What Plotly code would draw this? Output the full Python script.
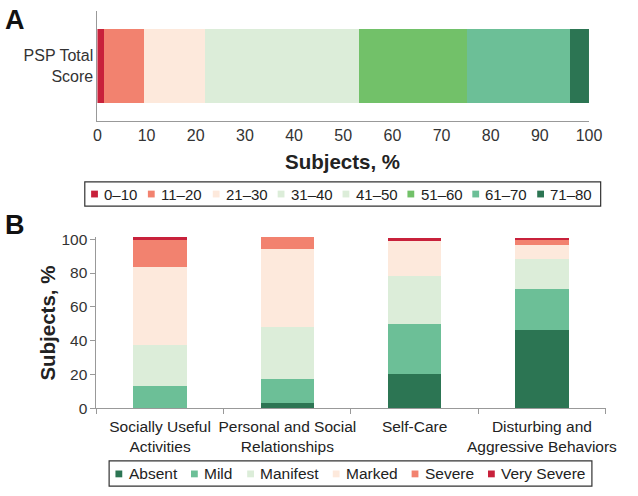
import plotly.graph_objects as go

# ---- Data ----
psp_bins = ["0–10", "11–20", "21–30", "31–40", "41–50", "51–60", "61–70", "71–80"]
psp_values = [1.4, 8.0, 12.5, 12.0, 19.3, 22.0, 20.9, 3.9]
psp_colors = ["#c8213b", "#f2826f", "#fde9dc", "#dcedd9", "#dcedd9", "#72c169", "#6cbf97", "#2c7553"]
psp_category = "PSP Total<br>Score"

domains = ["Socially Useful<br>Activities", "Personal and Social<br>Relationships",
           "Self-Care", "Disturbing and<br>Aggressive Behaviors"]
severity = ["Absent", "Mild", "Manifest", "Marked", "Severe", "Very Severe"]
absent = [0.0, 3.1, 20.3, 46.1]
mild = [13.4, 14.3, 29.8, 24.6]
manifest = [24.1, 30.4, 28.1, 17.4]
marked = [45.9, 46.5, 20.7, 8.5]
severe = [16.6, 6.8, 0.0, 2.8]
very_severe = [1.1, 0.0, 1.7, 1.2]
severity_values = [absent, mild, manifest, marked, severe, very_severe]
severity_colors = ["#2c7553", "#6cbf97", "#dcedd9", "#fde9dc", "#f2826f", "#c8213b"]

W, H = 638, 496
SANS = "Liberation Sans, Arial, sans-serif"
TXT = "#222"

# Arial / Liberation Sans advance widths (em) for legend layout
CW = {c: 0.556 for c in "0123456789–abdegnopqu"}
CW.update({" ": 0.278, "t": 0.278, "f": 0.278, "i": 0.222, "l": 0.222, "j": 0.222, "r": 0.333,
           "s": 0.5, "k": 0.5, "v": 0.5, "y": 0.5, "c": 0.5, "x": 0.5, "z": 0.5,
           "m": 0.833, "w": 0.722, "A": 0.667, "M": 0.833, "S": 0.667, "V": 0.667})


def text_w(s, size):
    return sum(CW.get(ch, 0.6) for ch in s) * size


def fy(px):
    return 1 - px / H


fig = go.Figure()

# Panel A bars
for name, v, c in zip(psp_bins, psp_values, psp_colors):
    fig.add_trace(go.Bar(x=[v], y=[psp_category], orientation="h", marker=dict(color=c, line=dict(width=0)),
                         width=0.67, showlegend=False, xaxis="x", yaxis="y", name=name))

# Panel B bars
for name, vals, c in zip(severity, severity_values, severity_colors):
    fig.add_trace(go.Bar(x=domains, y=vals, marker=dict(color=c, line=dict(width=0)), width=0.42,
                         showlegend=False, xaxis="x2", yaxis="y2", name=name))

shapes = []
annotations = []


def add_legend(names, colors, x_start, text_end, y_mid, y_top, y_bot, box_left, box_right, size, gap_sym):
    widths = [text_w(n, size) for n in names]
    free = text_end - x_start - sum(widths) - gap_sym * len(names)
    gap_next = free / (len(names) - 1)
    x = x_start
    for name, c, w in zip(names, colors, widths):
        shapes.append(dict(type="rect", xref="paper", yref="paper",
                           x0=(x - 3.5) / W, x1=(x + 3.5) / W, y0=fy(y_mid + 3.5), y1=fy(y_mid - 3.5),
                           fillcolor=c, line=dict(width=0)))
        tx = x + gap_sym
        annotations.append(dict(text=name, x=tx / W, y=fy(y_mid), xref="paper", yref="paper",
                                xanchor="left", yanchor="middle", showarrow=False, borderpad=0,
                                borderwidth=0, font=dict(family=SANS, size=size, color=TXT)))
        x = tx + w + gap_next
    shapes.append(dict(type="rect", xref="paper", yref="paper", x0=box_left / W, x1=box_right / W,
                       y0=fy(y_bot), y1=fy(y_top), line=dict(color="#333", width=1.2),
                       fillcolor="rgba(0,0,0,0)"))


add_legend(psp_bins, psp_colors, x_start=93, text_end=603, y_mid=193.5, y_top=181, y_bot=206,
           box_left=83, box_right=613, size=15, gap_sym=10)
add_legend(severity, severity_colors, x_start=118, text_end=596, y_mid=481.5, y_top=468, y_bot=494,
           box_left=108, box_right=604, size=15.5, gap_sym=10)

annotations += [
    dict(text="<b>A</b>", x=-1 / W, y=fy(-3), xref="paper", yref="paper", xanchor="left", yanchor="top",
         showarrow=False, font=dict(family=SANS, size=27, color="#111")),
    dict(text="<b>B</b>", x=-1 / W, y=fy(208), xref="paper", yref="paper", xanchor="left", yanchor="top",
         showarrow=False, font=dict(family=SANS, size=27, color="#111")),
    dict(text="<b>Subjects, %</b>", x=348 / W, y=fy(160), xref="paper", yref="paper",
         xanchor="center", yanchor="middle", showarrow=False,
         font=dict(family=SANS, size=20.5, color=TXT)),
    dict(text="<b>Subjects, %</b>", x=45 / W, y=fy(326), xref="paper", yref="paper",
         xanchor="center", yanchor="middle", showarrow=False, textangle=-90,
         font=dict(family=SANS, size=20.5, color=TXT)),
]

fig.update_layout(
    width=W, height=H, margin=dict(l=0, r=0, t=0, b=0),
    paper_bgcolor="white", plot_bgcolor="white",
    barmode="stack", showlegend=False,
    font=dict(family=SANS, color=TXT),
    xaxis=dict(domain=[96 / W, 601 / W], anchor="y", range=[0, 100], dtick=10, tick0=0,
               showline=True, linecolor="#999", linewidth=1, showgrid=False, zeroline=False,
               ticks="", tickfont=dict(family=SANS, size=16, color="#333")),
    yaxis=dict(domain=[fy(118), fy(5)], anchor="x", showline=True, linecolor="#999", linewidth=1,
               showgrid=False, ticks="", range=[-0.5, 0.5],
               tickfont=dict(family=SANS, size=16, color="#333")),
    xaxis2=dict(domain=[95 / W, 618 / W], anchor="y2", showline=True, linecolor="#999", linewidth=1,
                showgrid=False, ticks="outside", tickson="boundaries", ticklen=5, tickcolor="#999",
                tickangle=0, ticklabelstandoff=4, tickfont=dict(family=SANS, size=15.5, color=TXT)),
    yaxis2=dict(domain=[fy(414), fy(414) + (fy(240) - fy(414)) * 1.015], anchor="x2",
                range=[0, 101.5], tickvals=[0, 20, 40, 60, 80, 100],
                showline=True, linecolor="#999", linewidth=1, showgrid=False, zeroline=False,
                ticks="outside", ticklen=5, tickcolor="#999",
                tickfont=dict(family=SANS, size=15.5, color="#333")),
    shapes=shapes,
    annotations=annotations,
)

fig.write_html("out.html", config={"displayModeBar": False},
               post_script="document.body.style.margin='0';document.body.style.overflow='hidden';")
